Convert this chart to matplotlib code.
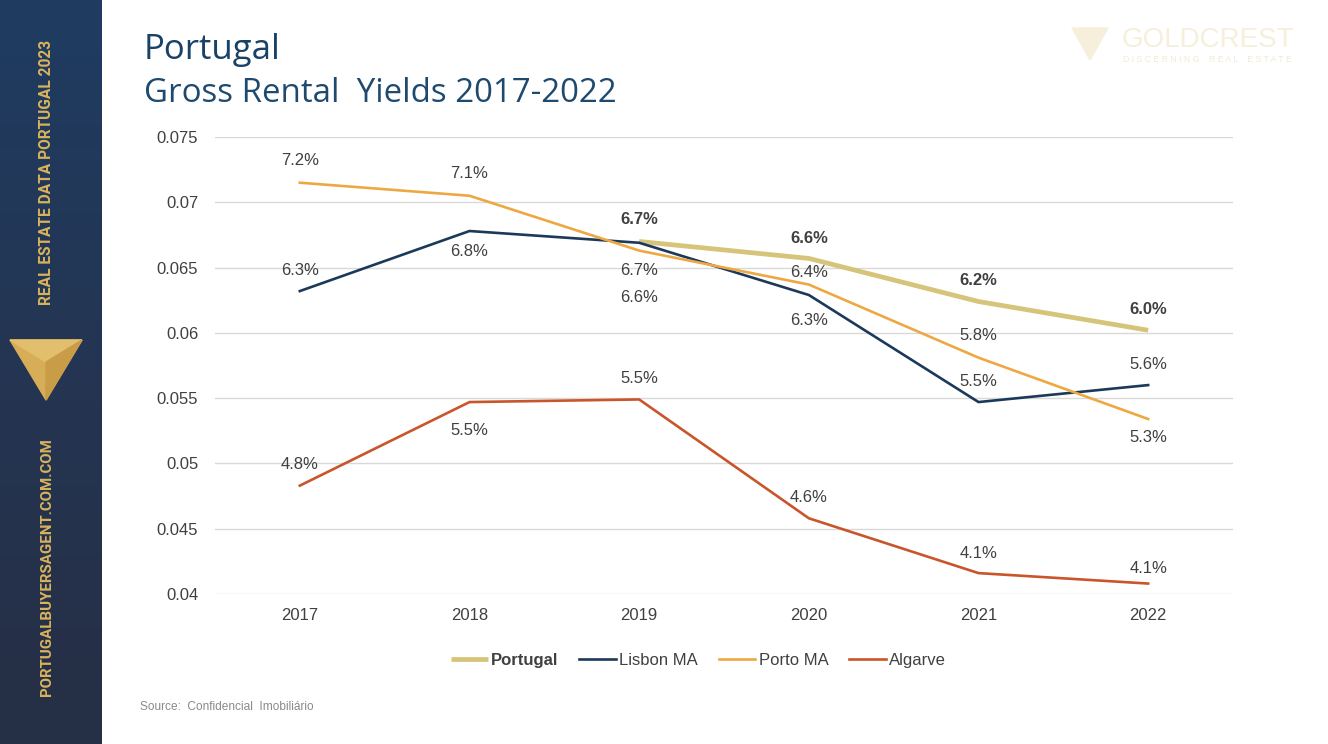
import matplotlib
matplotlib.use("Agg")
import matplotlib.pyplot as plt
import numpy as np
from matplotlib.patches import Polygon
from matplotlib.colors import LinearSegmentedColormap

years = ["2017", "2018", "2019", "2020", "2021", "2022"]
portugal = [None, None, 0.0670, 0.0657, 0.0624, 0.0602]
lisbon = [0.0632, 0.0678, 0.0669, 0.0629, 0.0547, 0.0560]
porto = [0.0715, 0.0705, 0.0663, 0.0637, 0.0581, 0.0534]
algarve = [0.0483, 0.0547, 0.0549, 0.0458, 0.0416, 0.0408]

portugal_labels = ["", "", "6.7%", "6.6%", "6.2%", "6.0%"]
lisbon_labels = ["6.3%", "6.8%", "6.7%", "6.3%", "5.5%", "5.6%"]
porto_labels = ["7.2%", "7.1%", "6.6%", "6.4%", "5.8%", "5.3%"]
algarve_labels = ["4.8%", "5.5%", "5.5%", "4.6%", "4.1%", "4.1%"]

yticks = [0.04, 0.045, 0.05, 0.055, 0.06, 0.065, 0.07, 0.075]
ytick_labels = ["0.04", "0.045", "0.05", "0.055", "0.06", "0.065", "0.07", "0.075"]

# label offsets in pixels (positive = above)
off_portugal = [0, 0, 22, 20, 21, 21]
off_lisbon = [21, -20, -28, -26, 21, 21]
off_porto = [22, 22, -47, 12, 22, -18]
off_algarve = [21, -28, 21, 21, 20, 15]

W, H = 1328, 744
fig = plt.figure(figsize=(W / 100, H / 100), dpi=100)
fig.patch.set_facecolor("white")

# sidebar
sb = fig.add_axes([0, 0, 102 / W, 1])
grad = np.linspace(0, 1, 256).reshape(-1, 1)
cmap = LinearSegmentedColormap.from_list("sb", ["#1f3c61", "#243552", "#262f45"])
sb.imshow(grad, aspect="auto", cmap=cmap, extent=[0, 102, 744, 0])
sb.set_xlim(0, 102)
sb.set_ylim(744, 0)
sb.axis("off")
gold = "#d9b35c"
sb.text(47, 172, "REAL ESTATE DATA PORTUGAL 2023", rotation=90, ha="center", va="center",
        color=gold, fontsize=11.2, fontweight="bold", family="Roboto")
sb.text(47, 567, "PORTUGALBUYERSAGENT.COM.COM", rotation=90, ha="center", va="center",
        color=gold, fontsize=10.8, fontweight="bold", family="Roboto")
sb.add_patch(Polygon([[10, 340], [82, 340], [46, 400]], closed=True, color="#d7ad58"))
sb.add_patch(Polygon([[10, 340], [82, 340], [46, 362]], closed=True, color="#e2bf6c"))
sb.add_patch(Polygon([[46, 362], [82, 340], [46, 400]], closed=True, color="#c99c48"))

# main axes
ax = fig.add_axes([215 / W, 1 - 594 / H, (1233 - 215) / W, (594 - 137) / H])
x = np.arange(len(years))

c_portugal = "#d5c479"
c_lisbon = "#1b3a5a"
c_porto = "#eea843"
c_algarve = "#c9552b"

pt_x = [i for i, v in enumerate(portugal) if v is not None]
pt_y = [v for v in portugal if v is not None]
ax.plot(pt_x, pt_y, color=c_portugal, lw=3.4, solid_capstyle="butt", label="Portugal", zorder=3)
ax.plot(x, lisbon, color=c_lisbon, lw=1.9, label="Lisbon MA", zorder=4)
ax.plot(x, porto, color=c_porto, lw=1.9, label="Porto MA", zorder=4)
ax.plot(x, algarve, color=c_algarve, lw=1.9, label="Algarve", zorder=4)

lab_font = dict(family="Liberation Sans", fontsize=12, color="#404040", ha="center", va="center")

def annot(vals, labels, offs, bold=False):
    for i, (v, l, o) in enumerate(zip(vals, labels, offs)):
        if v is None or not l:
            continue
        ax.annotate(l, (i, v), xytext=(0, o * 0.72), textcoords="offset points",
                    fontweight="bold" if bold else "normal", **lab_font)

annot(portugal, portugal_labels, off_portugal, bold=True)
annot(lisbon, lisbon_labels, off_lisbon)
annot(porto, porto_labels, off_porto)
annot(algarve, algarve_labels, off_algarve)

ax.set_xlim(-0.5, 5.5)
ax.set_ylim(0.04, 0.075)
ax.set_yticks(yticks)
ax.set_yticklabels(ytick_labels)
ax.set_xticks(x)
ax.set_xticklabels(years)
ax.grid(axis="y", color="#d9d9d9", lw=1)
ax.set_axisbelow(True)
for s in ax.spines.values():
    s.set_visible(False)
ax.tick_params(length=0, labelsize=12, labelcolor="#404040")
ax.tick_params(axis="y", pad=12)
ax.tick_params(axis="x", pad=10)
for t in ax.get_xticklabels() + ax.get_yticklabels():
    t.set_family("Liberation Sans")

leg = ax.legend(loc="center", bbox_to_anchor=(0.475, -0.145), ncol=4, frameon=False,
                prop={"family": "Liberation Sans", "size": 12}, handlelength=2.2,
                handletextpad=0.2, columnspacing=1.25)
for t in leg.get_texts():
    t.set_color("#404040")
leg.get_texts()[0].set_fontweight("bold")

# titles
fig.text(144 / W, 1 - 50 / H, "Portugal", fontsize=25, family="Open Sans", fontweight="medium",
         color="#1a4266", ha="left", va="center")
fig.text(144 / W, 1 - 93 / H, "Gross Rental  Yields 2017-2022", fontsize=23.8, family="Open Sans",
         fontweight="medium", color="#1e4a70", ha="left", va="center")

fig.text(140 / W, 1 - 707 / H, "Source:  Confidencial  Imobiliário", fontsize=8.6,
         family="Liberation Sans", color="#8a8a8a", ha="left", va="center")

# faint logo
lg = fig.add_axes([1060 / W, 1 - 75 / H, 250 / W, 55 / H])
lg.set_xlim(0, 250)
lg.set_ylim(55, 0)
lg.axis("off")
lg.add_patch(Polygon([[12, 8], [48, 8], [30, 40]], closed=True, color="#f6efdc"))
lg.text(62, 20, "GOLDCREST", fontsize=20, family="Liberation Sans", color="#f6efdc",
        ha="left", va="center")
lg.text(63, 40, "D I S C E R N I N G    R E A L    E S T A T E", fontsize=6.3,
        family="Liberation Sans", color="#f3ead2", ha="left", va="center")

fig.savefig("out.png", dpi=100)
